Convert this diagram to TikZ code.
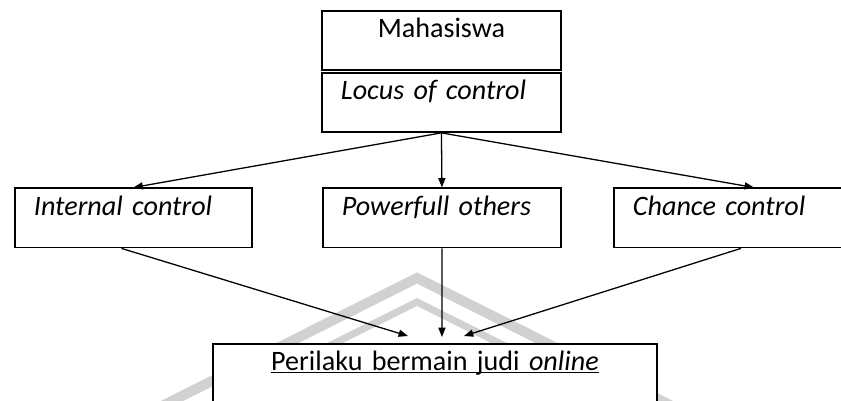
\documentclass[tikz,border=0pt]{standalone}
\usepackage{fontspec}
\setmainfont{Carlito}
\usetikzlibrary{arrows.meta}
\tikzset{
  box/.style={draw, line width=1.6pt, fill=white, inner ysep=0pt, text height=0.81cm, text depth=0.96cm, anchor=north west, font=\fontsize{24}{28}\selectfont},
  lbox/.style={box, inner xsep=0.57cm, align=left},
  cbox/.style={box, inner xsep=0pt, align=center},
  arrow/.style={line width=1.1pt, -{Triangle[length=8pt,width=6pt]}},
  wmark/.style={black!18, line join=miter}
}
\begin{document}
\begin{tikzpicture}[x=0.03cm, y=-0.03cm]
\useasboundingbox (0,0) rectangle (841,401);
\clip (0,0) rectangle (841,401);
\draw[wmark, line width=0.3cm] (160,407) -- (417,278) -- (674,407);
\draw[wmark, line width=0.21cm] (297,362) -- (417,302) -- (537,362);
\node[cbox, text width=7.17cm] (mhs) at (321,10) {Mahasiswa};
\node[lbox, text width=6.03cm] (loc) at (321,72) {\textit{Locus of control}};
\node[lbox, text width=5.97cm] (inter) at (14,187.5) {\textit{Internal control}};
\node[lbox, text width=6.00cm] (power) at (322,187.5) {\textit{Powerfull others}};
\node[lbox, text width=7.26cm] (chance) at (613,187.5) {\textit{Chance control}};
\node[cbox, text width=13.32cm] (judi) at (212,343) {\underline{\smash{Perilaku bermain judi \textit{online}}}};
\draw[arrow] (loc.south) -- (inter.north);
\draw[arrow] (loc.south) -- (power.north);
\draw[arrow] (loc.south) -- (chance.north);
\draw[arrow] ([xshift=-12*0.03cm]inter.south) -- ([shift={(-27,-7)}]judi.north);
\draw[arrow] (power.south) -- ([shift={(7,-6)}]judi.north);
\draw[arrow] ([xshift=-13*0.03cm]chance.south) -- ([shift={(29,-7)}]judi.north);
\end{tikzpicture}
\end{document}
